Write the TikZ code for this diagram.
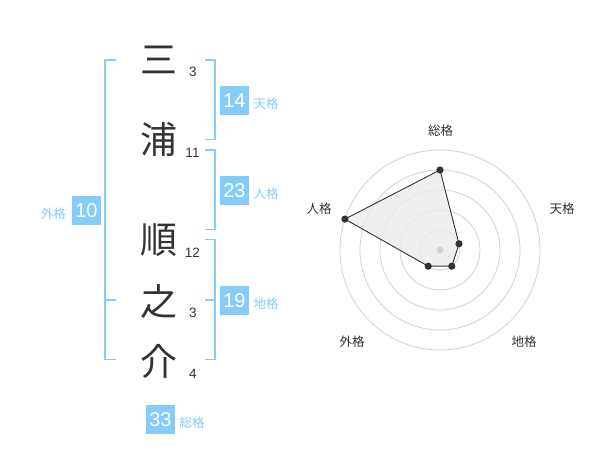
\documentclass[tikz,border=0pt]{standalone}
\usepackage{fontspec}
\setmainfont{Liberation Sans}
\newfontfamily\jp{Noto Sans CJK JP}
\definecolor{skyb}{HTML}{85CCFA}
\definecolor{ink}{HTML}{333333}
\definecolor{ringc}{HTML}{D2D2D2}
\begin{document}
\begin{tikzpicture}[x=1pt,y=-1pt,
  kanji/.style={inner sep=0pt,anchor=base,text=ink,font=\jp\fontsize{37}{37}\selectfont},
  strokes/.style={inner sep=0pt,anchor=base,text=ink,font=\fontsize{13.5}{13.5}\selectfont},
  scorebox/.style={fill=skyb,text=white,minimum width=29pt,minimum height=29pt,inner sep=0pt,font=\fontsize{20}{20}\selectfont},
  kaku/.style={inner sep=0pt,text=skyb,font=\jp\fontsize{12.5}{12.5}\selectfont},
  bracket/.style={draw=skyb,line width=1.6pt},
  ring/.style={draw=ringc,line width=0.8pt},
  axlabel/.style={inner sep=0pt,text=ink,font=\jp\fontsize{12.5}{12.5}\selectfont},
  dot/.style={fill=ink,draw=none}]
\useasboundingbox (0,0) rectangle (600,470);
\fill[white] (0,0) rectangle (600,470);
% kanji
\node[kanji] (k1) at (159,73.5) {三};
\node[kanji] (k2) at (159,154) {浦};
\node[kanji] (k3) at (159,254) {順};
\node[kanji] (k4) at (159,315.5) {之};
\node[kanji] (k5) at (159,375.5) {介};
% stroke counts
\node[strokes] (s1) at (193,77) {3};
\node[strokes] (s2) at (192.5,158) {11};
\node[strokes] (s3) at (192.5,258) {12};
\node[strokes] (s4) at (193,318) {3};
\node[strokes] (s5) at (193,378) {4};
% brackets
\draw[bracket] (116,60) -- (105,60) -- (105,359.5) -- (116,359.5);
\draw[bracket] (105,300) -- (116,300);
\draw[bracket] (205,60) -- (215,60) -- (215,139.5) -- (205,139.5);
\draw[bracket] (205,150) -- (215,150) -- (215,229.5) -- (205,229.5);
\draw[bracket] (205,239.5) -- (215,239.5) -- (215,359.5) -- (205,359.5);
\draw[bracket] (215,300) -- (205,300);
% score boxes
\node[scorebox] (b14) at (234.5,100.5) {14};
\node[kaku,anchor=west] (l14) at (253.5,104) {天格};
\node[scorebox] (b23) at (234.5,190.5) {23};
\node[kaku,anchor=west] (l23) at (253.5,194) {人格};
\node[scorebox] (b19) at (234.5,300.5) {19};
\node[kaku,anchor=west] (l19) at (253.5,304) {地格};
\node[scorebox] (b10) at (86.5,210.5) {10};
\node[kaku,anchor=east] (l10) at (66,214) {外格};
\node[scorebox] (b33) at (160.5,419.5) {33};
\node[kaku,anchor=west] (l33) at (179.5,423) {総格};
% radar
\coordinate (c) at (440,250);
\foreach \r in {20,40,60,80,100} \draw[ring] (c) circle[radius=\r];
\coordinate (pS) at (440,170);
\coordinate (pT) at (459.0,243.8);
\coordinate (pC) at (451.8,266.2);
\coordinate (pG) at (428.2,266.2);
\coordinate (pJ) at (344.9,219.1);
\fill[ink!10,opacity=0.8] (pS) -- (pT) -- (pC) -- (pG) -- (pJ) -- cycle;
\draw[ink,line width=0.9pt] (pS) -- (pT) -- (pC) -- (pG) -- (pJ) -- cycle;
\fill[ringc] (c) circle[radius=3.5];
\foreach \p in {pS,pT,pC,pG,pJ} \fill[ink] (\p) circle[radius=3.6];
\node[axlabel] (aS) at (440.5,130.5) {総格};
\node[axlabel] (aT) at (562,208.5) {天格};
\node[axlabel] (aJ) at (319,208.5) {人格};
\node[axlabel] (aC) at (524,342) {地格};
\node[axlabel] (aG) at (352,342) {外格};
\end{tikzpicture}
\end{document}
